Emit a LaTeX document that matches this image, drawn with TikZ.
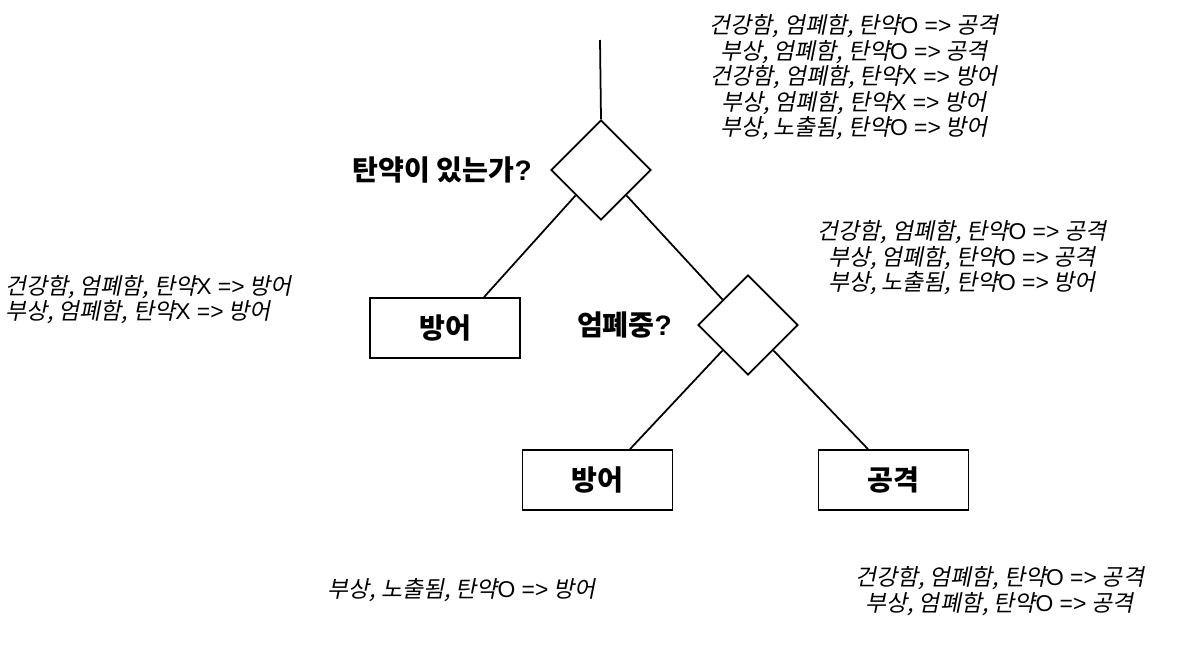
\documentclass[tikz,border=0pt]{standalone}
\usepackage{fontspec}
\setmainfont{Noto Sans CJK KR}
\newfontfamily\krit[FakeSlant=0.2]{Noto Sans CJK KR}
\newfontfamily\latn{Liberation Sans}
\usetikzlibrary{shapes.geometric,positioning}
\newcommand{\upr}[1]{{\latn #1}}

\begin{document}
\begin{tikzpicture}[
    decision/.style={diamond, draw=black, line width=1pt, minimum width=2cm, minimum height=2cm, inner sep=0pt},
    action/.style={rectangle, draw=black, line width=1pt, minimum width=3cm, minimum height=1.2cm, font=\fontsize{16}{19}\selectfont\bfseries},
    question/.style={inner sep=0pt, font=\fontsize{16}{19}\selectfont\bfseries},
    note/.style={align=center, inner sep=0pt, font=\fontsize{13}{14.5}\selectfont\krit},
    link/.style={line width=1pt}
]
    \useasboundingbox (0,0) rectangle (23.56,-13.4);

    \coordinate (entry) at (12.0,-0.8);
    \node[decision] (ammo) at (12.02,-3.4) {};
    \node[decision] (cover) at (14.96,-6.5) {};
    \node[action] (defA) at (8.9,-6.56) {방어};
    \node[action] (defB) at (11.95,-9.6) {방어};
    \node[action] (atk) at (17.87,-9.6) {공격};
    \node[question, left=0.36cm of ammo] (qammo) {탄약이 있는가\upr{?}};
    \node[question, left=0.5cm of cover] (qcover) {엄폐중\upr{?}};

    \draw[link] (entry) -- (ammo.north);
    \draw[link] (ammo.south west) -- ([xshift=0.78cm]defA.north);
    \draw[link] (ammo.south east) -- (cover.north west);
    \draw[link] (cover.south west) -- ([xshift=0.65cm]defB.north);
    \draw[link] (cover.south east) -- ([xshift=-0.51cm]atk.north);

    % notes
    \node[note] (casesAll) at (17.08,-1.55) {건강함, 엄폐함, 탄약\upr{O =>} 공격\\
        부상, 엄폐함, 탄약\upr{O =>} 공격\\
        건강함, 엄폐함, 탄약\upr{X =>} 방어\\
        부상, 엄폐함, 탄약\upr{X =>} 방어\\
        부상, 노출됨, 탄약\upr{O =>} 방어};
    \node[note, align=left, anchor=west] (casesNoAmmo) at (0.1,-5.99) {건강함, 엄폐함, 탄약\upr{X =>} 방어\\
        부상, 엄폐함, 탄약\upr{X =>} 방어};
    \node[note] (casesAmmo) at (19.24,-5.16) {건강함, 엄폐함, 탄약\upr{O =>} 공격\\
        부상, 엄폐함, 탄약\upr{O =>} 공격\\
        부상, 노출됨, 탄약\upr{O =>} 방어};
    \node[note] (casesOpen) at (9.23,-11.8) {부상, 노출됨, 탄약\upr{O =>} 방어};
    \node[note] (casesCover) at (19.99,-11.82) {건강함, 엄폐함, 탄약\upr{O =>} 공격\\
        부상, 엄폐함, 탄약\upr{O =>} 공격};
\end{tikzpicture}
\end{document}
